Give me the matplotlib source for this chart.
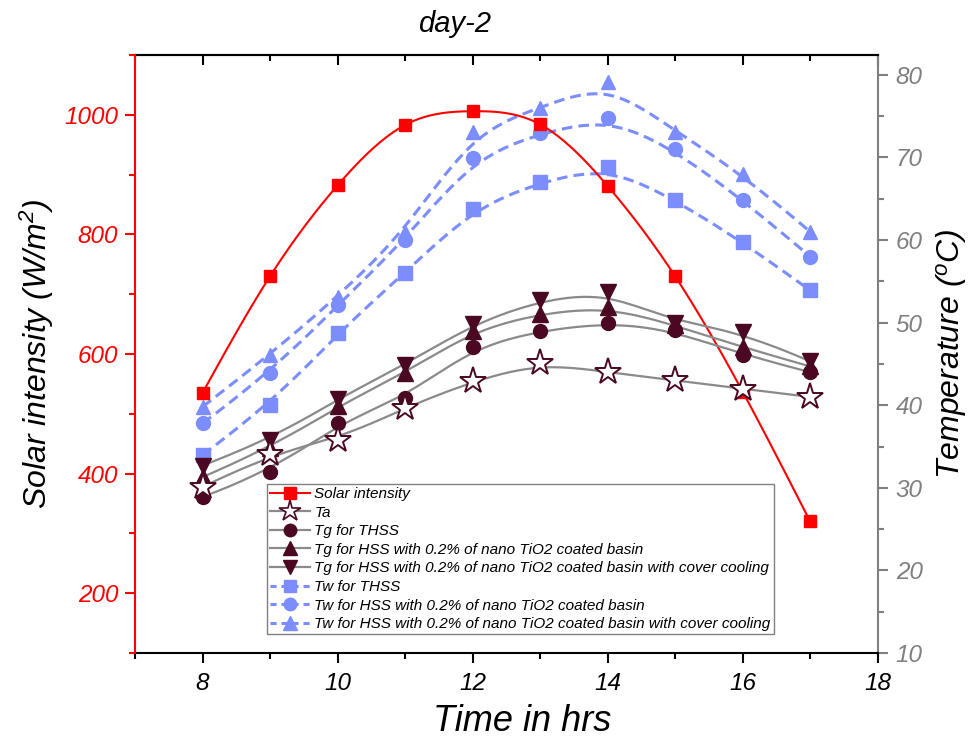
import numpy as np
import matplotlib
matplotlib.use("Agg")
import matplotlib.pyplot as plt
from matplotlib.lines import Line2D
from matplotlib.ticker import MultipleLocator

plt.rcParams['font.family'] = ['Liberation Sans', 'DejaVu Sans']
plt.rcParams['font.style'] = 'italic'
plt.rcParams['mathtext.fontset'] = 'custom'
plt.rcParams['mathtext.rm'] = 'Liberation Sans:italic'
plt.rcParams['mathtext.it'] = 'Liberation Sans:italic'
plt.rcParams['mathtext.default'] = 'it'

# ---------------- data ----------------
hours = [8, 9, 10, 11, 12, 13, 14, 15, 16, 17]
solar = [535, 730, 882, 983, 1006, 984, 881, 730, 537, 320]
ta = [30.1, 34.1, 35.8, 39.7, 42.9, 45.1, 44.0, 43.0, 42.0, 41.0]
tg_thss = [28.9, 31.9, 37.9, 40.9, 47.0, 49.0, 50.0, 49.1, 46.1, 44.0]
tg_hss = [31.3, 34.8, 39.9, 43.9, 49.0, 51.1, 51.9, 49.7, 47.0, 44.7]
tg_hss_cc = [32.7, 35.8, 40.8, 44.9, 49.8, 52.7, 53.7, 49.9, 48.9, 45.3]
tw_thss = [34.0, 40.0, 48.8, 56.0, 63.8, 67.0, 68.9, 64.9, 59.8, 53.9]
tw_hss = [37.8, 43.9, 52.1, 60.0, 69.9, 72.9, 74.8, 71.0, 64.9, 58.0]
tw_hss_cc = [39.8, 46.1, 53.1, 61.0, 73.1, 76.0, 79.1, 73.1, 68.0, 61.0]

labels = ["Solar intensity", "Ta", "Tg for THSS",
          "Tg for HSS with 0.2% of nano TiO2 coated basin",
          "Tg for HSS with 0.2% of nano TiO2 coated basin with cover cooling",
          "Tw for THSS",
          "Tw for HSS with 0.2% of nano TiO2 coated basin",
          "Tw for HSS with 0.2% of nano TiO2 coated basin with cover cooling"]


# ------------- curve helpers (line rendering only) -------------
def natural_spline(x, y, num=300):
    x = np.asarray(x, float); y = np.asarray(y, float)
    n = len(x)
    h = np.diff(x)
    A = np.zeros((n, n)); b = np.zeros(n)
    A[0, 0] = 1; A[-1, -1] = 1
    for i in range(1, n - 1):
        A[i, i - 1] = h[i - 1]
        A[i, i] = 2 * (h[i - 1] + h[i])
        A[i, i + 1] = h[i]
        b[i] = 3 * ((y[i + 1] - y[i]) / h[i] - (y[i] - y[i - 1]) / h[i - 1])
    c = np.linalg.solve(A, b)
    xs = np.linspace(x[0], x[-1], num)
    ys = np.empty_like(xs)
    for k, xv in enumerate(xs):
        i = min(np.searchsorted(x, xv, side='right') - 1, n - 2)
        dx = xv - x[i]
        bi = (y[i + 1] - y[i]) / h[i] - h[i] * (2 * c[i] + c[i + 1]) / 3
        di = (c[i + 1] - c[i]) / (3 * h[i])
        ys[k] = y[i] + bi * dx + c[i] * dx ** 2 + di * dx ** 3
    return xs, ys


def bspline(x, y, num=300, p=3):
    P = np.column_stack([x, y]).astype(float)
    n = len(P)
    knots = np.concatenate([np.zeros(p), np.arange(n - p + 1), np.full(p, n - p)]).astype(float)
    t = np.linspace(0, n - p, num)
    t[-1] -= 1e-9

    def basis(i, k, tt):
        if k == 0:
            return np.where((knots[i] <= tt) & (tt < knots[i + 1]), 1.0, 0.0)
        out = np.zeros_like(tt)
        d1 = knots[i + k] - knots[i]
        d2 = knots[i + k + 1] - knots[i + 1]
        if d1 > 0:
            out += (tt - knots[i]) / d1 * basis(i, k - 1, tt)
        if d2 > 0:
            out += (knots[i + k + 1] - tt) / d2 * basis(i + 1, k - 1, tt)
        return out

    C = np.zeros((num, 2))
    for i in range(n):
        C += basis(i, p, t)[:, None] * P[i]
    return C[:, 0], C[:, 1]


# ---------------- figure ----------------
fig = plt.figure(figsize=(9.71, 7.47), dpi=100)
rect = [135 / 971, 1 - 653 / 747, (877.7 - 135) / 971, (653 - 55) / 747]
axT = fig.add_axes(rect)          # temperature (blue), right axis
axS = axT.twinx()                 # solar, left axis
axG = axT.twinx()                 # temperature (Tg, Ta), hidden axis

axT.set_zorder(1); axS.set_zorder(2); axG.set_zorder(3)
axS.patch.set_visible(False); axG.patch.set_visible(False)

red = '#FF0000'
maroon = '#4A0823'
grey = '#8A8A8A'
blue = '#7B8DFF'
axgrey = '#808080'

# blue Tw series
tw_series = [(tw_thss, 's', 9.5), (tw_hss, 'o', 10), (tw_hss_cc, '^', 10.5)]
for vals, mk, ms in tw_series:
    xs, ys = bspline(hours, vals)
    axT.plot(xs, ys, color=blue, lw=2.2, dashes=(3.5, 2.0))
    axT.plot(hours, vals, ls='none', marker=mk, ms=ms, mfc=blue, mec=blue)

# solar
xs, ys = natural_spline(hours, solar)
axS.plot(xs, ys, color=red, lw=1.5)
axS.plot(hours, solar, ls='none', marker='s', ms=9, mfc=red, mec=red)

# Ta and Tg series
g_series = [(tg_thss, 'o', 10), (tg_hss, '^', 11), (tg_hss_cc, 'v', 11)]
for vals, mk, ms in g_series:
    xs, ys = bspline(hours, vals)
    axG.plot(xs, ys, color=grey, lw=1.6, zorder=2)
for vals, mk, ms in g_series:
    axG.plot(hours, vals, ls='none', marker=mk, ms=ms, mfc=maroon, mec=maroon, zorder=3)
xs, ys = bspline(hours, ta)
axG.plot(xs, ys, color=grey, lw=1.6, zorder=2)
axG.plot(hours, ta, ls='none', marker='*', ms=20, mfc='white', mec=maroon, mew=1.4, zorder=4)

# ---------------- axes ----------------
axT.set_xlim(7, 18)
axT.set_ylim(10, 82.4)
axG.set_ylim(10, 82.4)
axS.set_ylim(100, 1100)

axT.xaxis.set_major_locator(MultipleLocator(2))
axT.xaxis.set_minor_locator(MultipleLocator(1))
axT.yaxis.set_major_locator(MultipleLocator(10))
axT.yaxis.set_minor_locator(MultipleLocator(5))
axS.yaxis.set_major_locator(MultipleLocator(200))
axS.yaxis.set_minor_locator(MultipleLocator(100))

axT.yaxis.tick_right()
axT.yaxis.set_label_position('right')
axS.yaxis.tick_left()
axS.yaxis.set_label_position('left')
axG.yaxis.set_visible(False)

for ax in (axT, axS, axG):
    for s in ax.spines.values():
        s.set_visible(False)
axT.spines['bottom'].set_visible(True)
axT.spines['top'].set_visible(True)
axT.spines['right'].set_visible(True)
axS.spines['left'].set_visible(True)
axT.spines['bottom'].set_color('black')
axT.spines['top'].set_color('black')
axT.spines['right'].set_color(axgrey)
axS.spines['left'].set_color(red)
for s in ('bottom', 'top', 'right'):
    axT.spines[s].set_linewidth(1.5)
axS.spines['left'].set_linewidth(1.5)

axT.tick_params(axis='x', which='major', direction='out', length=7, width=1.5,
                labelsize=17.5, pad=7, colors='black')
axT.tick_params(axis='x', which='minor', direction='out', length=4, width=1.5)
axT.tick_params(axis='y', which='major', direction='out', length=7, width=1.5,
                labelsize=17.5, pad=6, colors=axgrey)
axT.tick_params(axis='y', which='minor', direction='out', length=4, width=1.5, colors=axgrey)
axS.tick_params(axis='y', which='major', direction='out', length=7, width=1.5,
                labelsize=17.5, pad=5, colors=red)
axS.tick_params(axis='y', which='minor', direction='out', length=4, width=1.5, colors=red)

sec = axT.secondary_xaxis('top')
sec.xaxis.set_major_locator(MultipleLocator(2))
sec.xaxis.set_minor_locator(MultipleLocator(1))
sec.tick_params(axis='x', which='major', direction='in', length=7, width=1.5, labeltop=False)
sec.tick_params(axis='x', which='minor', direction='in', length=4, width=1.5)
sec.spines['top'].set_linewidth(1.5)

for lab in axT.get_xticklabels() + axT.get_yticklabels() + axS.get_yticklabels():
    lab.set_fontstyle('italic')

axT.set_xlabel('Time in hrs', fontsize=26)
axT.xaxis.set_label_coords((522 - 135) / 742.7, -0.085)
axS.set_ylabel('Solar intensity (W/m$^2$)', fontsize=23, labelpad=6)
axT.set_ylabel('Temperature ($^o$C)', fontsize=23, labelpad=8)
fig.text(455 / 971, 1 - 24 / 747, 'day-2', fontsize=21, ha='center', va='center', style='italic')

# ---------------- legend ----------------
handles = [
    Line2D([], [], color=red, lw=1.5, marker='s', ms=8.5, mfc=red, mec=red),
    Line2D([], [], color=grey, lw=1.6, marker='*', ms=16, mfc='white', mec=maroon, mew=1.2),
    Line2D([], [], color=grey, lw=1.6, marker='o', ms=9, mfc=maroon, mec=maroon),
    Line2D([], [], color=grey, lw=1.6, marker='^', ms=10, mfc=maroon, mec=maroon),
    Line2D([], [], color=grey, lw=1.6, marker='v', ms=10, mfc=maroon, mec=maroon),
    Line2D([], [], color=blue, lw=2.2, dashes=(2.0, 1.6), marker='s', ms=8.5, mfc=blue, mec=blue),
    Line2D([], [], color=blue, lw=2.2, dashes=(2.0, 1.6), marker='o', ms=9, mfc=blue, mec=blue),
    Line2D([], [], color=blue, lw=2.2, dashes=(2.0, 1.6), marker='^', ms=10, mfc=blue, mec=blue),
]
leg = axG.legend(handles, labels, loc='upper left',
                 bbox_to_anchor=((267 - 135) / 742.7, (653 - 484) / 598),
                 prop={'size': 11, 'style': 'italic'}, frameon=True, fancybox=False,
                 framealpha=1, edgecolor='#808080', handlelength=2.6, handletextpad=0.3,
                 labelspacing=0.3, borderpad=0.2, borderaxespad=0)
leg.get_frame().set_linewidth(1.0)

fig.savefig('out.png', dpi=100)
